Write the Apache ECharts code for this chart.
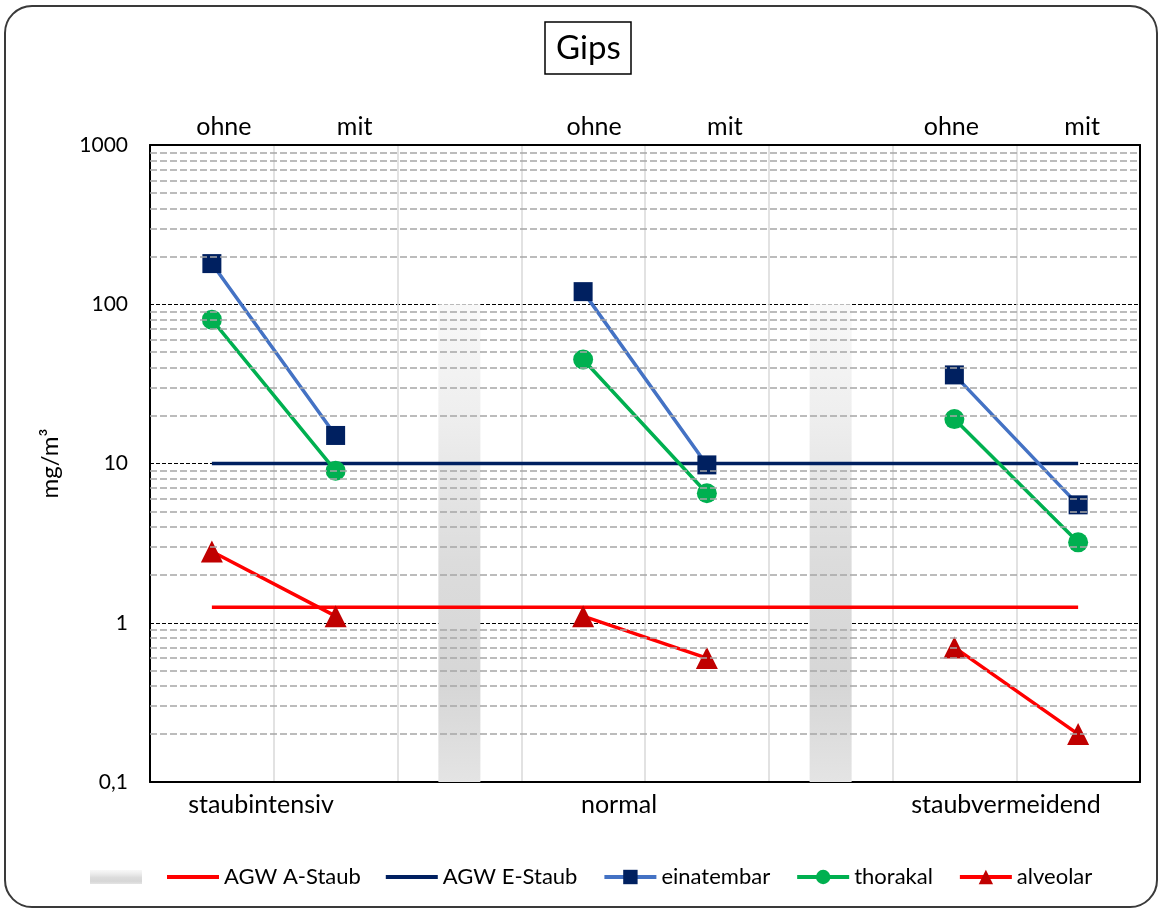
<!DOCTYPE html>
<html>
<head>
<meta charset="utf-8">
<script src="https://cdn.jsdelivr.net/npm/echarts@6/dist/echarts.min.js"></script>
<style>
  html, body { margin: 0; padding: 0; background: #fff; }
  #chart { width: 1160px; height: 910px; }
</style>
</head>
<body>
<div id="chart"></div>
<script>
// Eight category slots: ohne/mit for each working mode, with an empty separator slot between groups
const slotLabels = ['ohne', 'mit', '', 'ohne', 'mit', '', 'ohne', 'mit'];
const groupLabels = ['staubintensiv', 'normal', 'staubvermeidend'];

// Measured concentrations in mg/m³ (null = no point in that slot)
const einatembar = [180, 15, null, 120, 9.8, null, 36, 5.5];
const thorakal   = [80, 9, null, 45, 6.5, null, 19, 3.2];
const alveolar   = [2.8, 1.1, null, 1.1, 0.6, null, 0.7, 0.2];

// Limit values (AGW) drawn across all slots
const agwA = [1.25, 1.25, 1.25, 1.25, 1.25, 1.25, 1.25, 1.25];
const agwE = [10, 10, 10, 10, 10, 10, 10, 10];

// Separator columns between the groups
const separator = [null, null, 100, null, null, 100, null, null];

// Value axis ticks and the minor gridline values inside each decade
const yTickValues = [0.1, 1, 10, 100, 1000];
const yTickLabels = ['0,1', '1', '10', '100', '1000'];
const minorGridValues = [
  0.2, 0.3, 0.4, 0.5, 0.6, 0.7, 0.8, 0.9,
  2, 3, 4, 5, 6, 7, 8, 9,
  20, 30, 40, 50, 60, 70, 80, 90,
  200, 300, 400, 500, 600, 700, 800, 900
];

// Horizontal nudges for the top labels and placement of the group captions
const topLabelShift = [12, 19, 0, 11, 18, 0, -3, 4];
const groupLabelX = [261, 619, 1006];

const FONT = 'Lato';
const BLACK_LINE = { show: true, onZero: false, lineStyle: { color: '#000', width: 2 } };

const chart = echarts.init(document.getElementById('chart'), null, { renderer: 'canvas' });

const topAxisData = slotLabels.map((s, i) => ({
  value: s,
  textStyle: { padding: topLabelShift[i] >= 0 ? [0, 0, 0, 2 * topLabelShift[i]] : [0, -2 * topLabelShift[i], 0, 0] }
}));

const separatorGradient = new echarts.graphic.LinearGradient(0, 0, 0, 1, [
  { offset: 0, color: '#f8f8f8' },
  { offset: 0.22, color: '#efefef' },
  { offset: 0.54, color: '#dcdcdc' },
  { offset: 0.8, color: '#d6d6d6' },
  { offset: 1, color: '#e4e4e4' }
]);

const logAxisBase = {
  type: 'log',
  logBase: 10,
  min: 0.1,
  max: 1000,
  startValue: 0.1,
  splitNumber: 4,
  axisTick: { show: false },
  minorTick: { show: false }
};

const option = {
  backgroundColor: '#fff',
  animation: false,
  textStyle: { fontFamily: FONT },
  title: {
    text: 'Gips',
    left: 545,
    top: 22,
    padding: [9, 11, 9, 11],
    borderColor: '#000',
    borderWidth: 1.5,
    textStyle: { fontFamily: FONT, fontSize: 33, fontWeight: 'normal', color: '#000', lineHeight: 34 }
  },
  grid: {
    left: 150, right: 20, top: 145, bottom: 128,
    show: true,
    backgroundColor: '#fff',
    borderWidth: 0,
    containLabel: false
  },
  legend: {
    left: 90,
    top: 866,
    padding: 0,
    itemWidth: 52,
    itemHeight: 18,
    itemGap: 25,
    symbolKeepAspect: true,
    lineStyle: { width: 4 },
    data: [
      { name: 'Trennung', icon: 'path://M0,0h52v14h-52z' },
      { name: 'AGW A-Staub', icon: 'path://M0,0h52v4h-52z' },
      { name: 'AGW E-Staub', icon: 'path://M0,0h52v4h-52z' },
      'einatembar', 'thorakal', 'alveolar'
    ],
    formatter: name => (name === 'Trennung' ? '' : name),
    textStyle: { fontFamily: FONT, fontSize: 22, color: '#000' }
  },
  xAxis: [
    {
      type: 'category',
      position: 'bottom',
      data: slotLabels,
      boundaryGap: true,
      axisLine: BLACK_LINE,
      axisTick: { show: false },
      axisLabel: { show: false },
      splitLine: { show: true, lineStyle: { color: '#d9d9d9', width: 1.5 } }
    },
    {
      type: 'category',
      position: 'top',
      data: topAxisData,
      boundaryGap: true,
      axisLine: BLACK_LINE,
      axisTick: { show: false },
      axisLabel: { show: true, interval: 0, margin: 6, fontFamily: FONT, fontSize: 25, color: '#000' },
      splitLine: { show: false }
    }
  ],
  yAxis: [
    Object.assign({}, logAxisBase, {
      position: 'left',
      name: 'mg/m³',
      nameLocation: 'middle',
      nameGap: 88,
      nameTextStyle: { fontFamily: FONT, fontSize: 24, color: '#000' },
      axisLine: BLACK_LINE,
      axisLabel: {
        margin: 22,
        fontFamily: FONT,
        fontSize: 21,
        color: '#000',
        formatter: v => {
          const i = yTickValues.findIndex(t => Math.abs(t - v) / t < 1e-6);
          return i >= 0 ? yTickLabels[i] : '';
        }
      },
      splitLine: { show: true, lineStyle: { color: '#000', width: 1.2, type: [4, 2] } }
    }),
    Object.assign({}, logAxisBase, {
      position: 'right',
      axisLine: BLACK_LINE,
      axisLabel: { show: false },
      splitLine: { show: false }
    })
  ],
  graphic: [
    {
      type: 'rect',
      silent: true,
      z: 100,
      shape: { x: 5, y: 6, width: 1152, height: 901, r: 27 },
      style: { fill: 'none', stroke: '#3a3a3a', lineWidth: 2 }
    },
    ...groupLabels.map((t, i) => ({
      type: 'text',
      silent: true,
      x: groupLabelX[i],
      y: 805,
      style: {
        text: t,
        fontFamily: FONT,
        fontSize: 25,
        fill: '#000',
        align: 'center',
        verticalAlign: 'middle'
      }
    }))
  ],
  series: [
    {
      // dashed minor gridlines for 2..9 within every decade
      name: 'Raster',
      type: 'line',
      data: [],
      silent: true,
      z: 1,
      markLine: {
        silent: true,
        symbol: ['none', 'none'],
        label: { show: false },
        animation: false,
        lineStyle: { color: '#a6a6a6', width: 1.5, type: [7, 3] },
        data: minorGridValues.map(v => ({ yAxis: v }))
      }
    },
    {
      name: 'Trennung',
      type: 'bar',
      data: separator,
      barWidth: 42,
      z: 2,
      itemStyle: { color: separatorGradient }
    },
    {
      name: 'AGW A-Staub',
      type: 'line',
      data: agwA,
      symbol: 'none',
      z: 3,
      color: '#ff0000',
      lineStyle: { color: '#ff0000', width: 3.5 }
    },
    {
      name: 'AGW E-Staub',
      type: 'line',
      data: agwE,
      symbol: 'none',
      z: 3,
      color: '#002060',
      lineStyle: { color: '#002060', width: 3.5 }
    },
    {
      name: 'einatembar',
      type: 'line',
      data: einatembar,
      symbol: 'rect',
      symbolSize: 19,
      z: 4,
      color: '#002060',
      itemStyle: { color: '#002060' },
      lineStyle: { color: '#4472c4', width: 3.5 }
    },
    {
      name: 'thorakal',
      type: 'line',
      data: thorakal,
      symbol: 'circle',
      symbolSize: 20,
      z: 4,
      color: '#00b050',
      itemStyle: { color: '#00b050' },
      lineStyle: { color: '#00b050', width: 3.5 }
    },
    {
      name: 'alveolar',
      type: 'line',
      data: alveolar,
      symbol: 'triangle',
      symbolSize: 22,
      z: 4,
      color: '#c00000',
      itemStyle: { color: '#c00000' },
      lineStyle: { color: '#ff0000', width: 3.5 }
    }
  ]
};

chart.setOption(option);
</script>
</body>
</html>
